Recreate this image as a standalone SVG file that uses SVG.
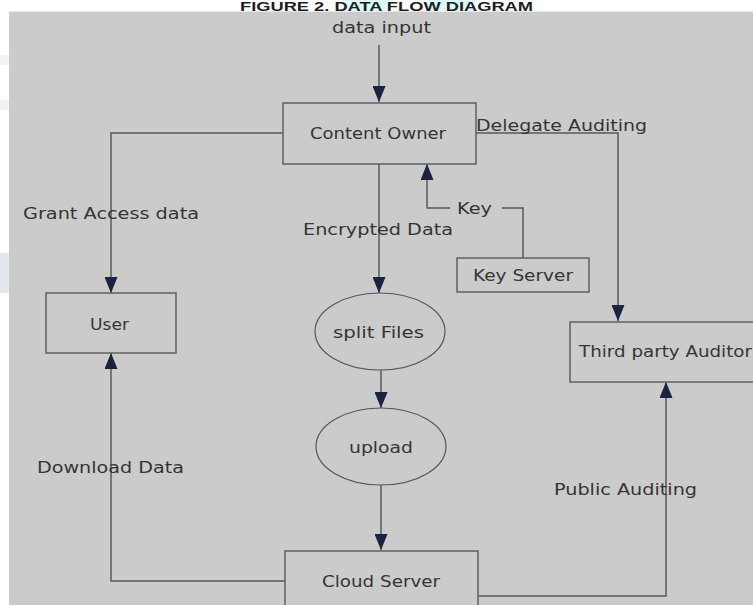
<svg xmlns="http://www.w3.org/2000/svg" width="753" height="605" viewBox="0 0 753 605">
  <defs>
    <marker id="ah" markerUnits="userSpaceOnUse" markerWidth="16" markerHeight="13" refX="16" refY="6.5" orient="auto">
      <path d="M0,0 L16,6.5 L0,13 z" fill="#1b2340"/>
    </marker>
    <style>
      .bg { fill: #cbcbcb; }
      .box { fill: none; stroke: #606060; stroke-width: 1.5; }
      .ell { fill: none; stroke: #555555; stroke-width: 1.2; }
      .ln { fill: none; stroke: #5a5a5a; stroke-width: 1.5; }
      .arr { marker-end: url(#ah); }
      .t { font-family: "DejaVu Sans", Verdana, sans-serif; font-size: 16.5px; fill: #353535; }
      .title { font-family: "Liberation Sans", Arial, sans-serif; font-weight: bold; font-size: 12.5px; fill: #1e1e1e; }
    </style>
  </defs>

  <rect x="0" y="0" width="753" height="605" fill="#ffffff"/>
  <rect x="0" y="253" width="9" height="40" fill="#e4e8ec"/>
  <rect x="0" y="55" width="9" height="10" fill="#f0f2f5"/>
  <rect x="0" y="100" width="9" height="10" fill="#f0f2f5"/>
  <rect class="bg" x="9" y="11.5" width="744" height="593.5"/>

  <g id="title">
    <rect x="343" y="0" width="47" height="11.5" fill="#dcf8fb"/>
    <rect x="428" y="0" width="47" height="11.5" fill="#dcf8fb"/>
    <text class="title" x="240" y="11.4" textLength="293" lengthAdjust="spacingAndGlyphs">FIGURE 2. DATA FLOW DIAGRAM</text>
  </g>

  <g id="connectors">
    <path class="ln arr" d="M379,45 V102"/>
    <path class="ln arr" d="M283,133 H111 V293"/>
    <path class="ln arr" d="M379,164 V293"/>
    <path class="ln arr" d="M381,370 V408"/>
    <path class="ln arr" d="M381,485 V550"/>
    <path class="ln arr" d="M285,581 H111 V353"/>
    <path class="ln arr" d="M478,596 H666 V382"/>
    <path class="ln arr" d="M476,133 H618 V321"/>
    <path class="ln" d="M523,258 V208 H502"/>
    <path class="ln arr" d="M450,208 H427 V164"/>
  </g>

  <g id="labels">
    <text class="t" x="332" y="33" textLength="99" lengthAdjust="spacingAndGlyphs">data input</text>
    <text class="t" x="23" y="219" textLength="176" lengthAdjust="spacingAndGlyphs">Grant Access data</text>
    <text class="t" x="303" y="235" textLength="150" lengthAdjust="spacingAndGlyphs">Encrypted Data</text>
    <text class="t" x="476" y="131" textLength="171" lengthAdjust="spacingAndGlyphs">Delegate Auditing</text>
    <text class="t" x="457" y="214" textLength="35" lengthAdjust="spacingAndGlyphs">Key</text>
    <text class="t" x="37" y="473" textLength="147" lengthAdjust="spacingAndGlyphs">Download Data</text>
    <text class="t" x="554" y="495" textLength="143" lengthAdjust="spacingAndGlyphs">Public Auditing</text>
  </g>

  <g id="content-owner">
    <rect class="box" x="283" y="103" width="193" height="61"/>
    <text class="t" x="310" y="139" textLength="136" lengthAdjust="spacingAndGlyphs">Content Owner</text>
  </g>

  <g id="user">
    <rect class="box" x="46" y="293" width="130" height="60"/>
    <text class="t" x="90" y="330" textLength="39" lengthAdjust="spacingAndGlyphs">User</text>
  </g>

  <g id="split-files">
    <ellipse class="ell" cx="380" cy="331.5" rx="65" ry="38.5"/>
    <text class="t" x="333" y="338" textLength="91" lengthAdjust="spacingAndGlyphs">split Files</text>
  </g>

  <g id="upload">
    <ellipse class="ell" cx="381" cy="446.5" rx="65" ry="38.5"/>
    <text class="t" x="349" y="453" textLength="64" lengthAdjust="spacingAndGlyphs">upload</text>
  </g>

  <g id="key-server">
    <rect class="box" x="457" y="258" width="132" height="34"/>
    <text class="t" x="473" y="281" textLength="100" lengthAdjust="spacingAndGlyphs">Key Server</text>
  </g>

  <g id="third-party-auditor">
    <rect class="box" x="570" y="322" width="200" height="60"/>
    <text class="t" x="579" y="357" textLength="173" lengthAdjust="spacingAndGlyphs">Third party Auditor</text>
  </g>

  <g id="cloud-server">
    <rect class="box" x="285" y="551" width="193" height="70"/>
    <text class="t" x="322" y="587" textLength="118" lengthAdjust="spacingAndGlyphs">Cloud Server</text>
  </g>
</svg>
